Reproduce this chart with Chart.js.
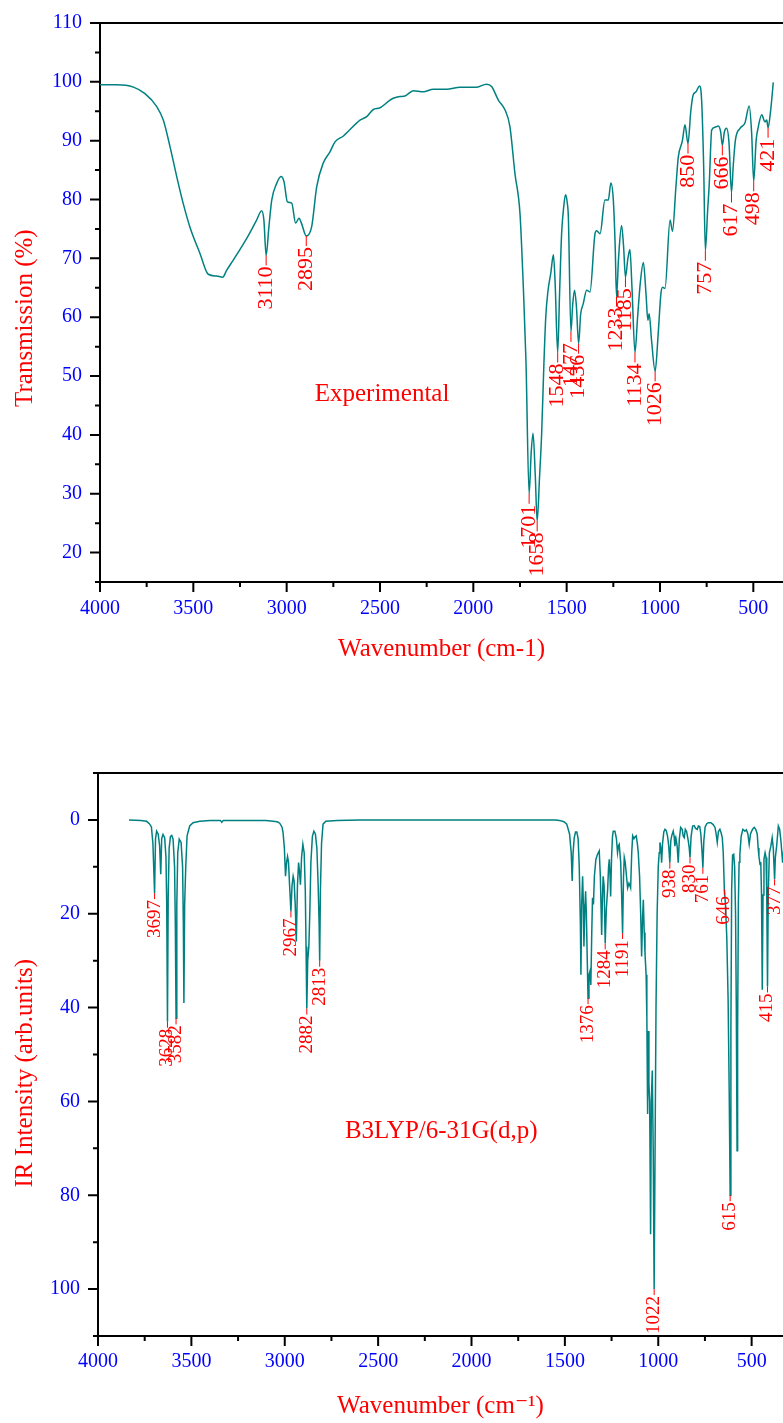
<!DOCTYPE html>
<html><head><meta charset="utf-8">
<script src="https://cdn.jsdelivr.net/npm/chart.js@4.4.1/dist/chart.umd.min.js"></script>
<style>
html,body{margin:0;padding:0;background:#fff;overflow:hidden;width:783px;height:1423px}
.box{position:absolute;left:0;width:783px}
#b1{top:0;height:690px}
#b2{top:690px;height:733px}
canvas{display:block}
</style></head><body>
<div class="box" id="b1"><canvas id="c1" width="783" height="690"></canvas></div>
<div class="box" id="b2"><canvas id="c2" width="783" height="733"></canvas></div>
<script>
// ---------- Experimental FT-IR (transmission %) ----------
const expWavenumber = [
4000,3911,3821,3759,3696,3661,3625,3589,3554,3518,
3464,3420,3375,3343,3321,3286,3214,3161,3134,3122,
3110,3095,3080,3054,3030,3014,2996,2973,2952,2934,
2920,2895,2866,2839,2804,2768,2741,2696,2607,2571,
2536,2500,2446,2429,2393,2366,2321,2268,2214,2143,
2071,1982,1929,1902,1866,1830,1804,1777,1750,1732,
1718,1701,1690,1680,1668,1658,1645,1634,1622,1612,
1600,1585,1571,1562,1548,1538,1527,1515,1506,1497,
1491,1477,1468,1458,1448,1436,1425,1411,1393,1375,
1348,1339,1321,1295,1277,1263,1250,1240,1233,1222,
1206,1195,1185,1172,1161,1150,1134,1120,1105,1089,
1075,1065,1058,1045,1026,1010,995,986,973,946,
933,915,902,880,866,850,835,822,807,789,
777,766,757,745,736,723,705,688,675,666,
655,643,630,617,607,596,571,545,522,509,
498,485,473,455,438,428,421,407,393];
const expTransmission = [
99.5,99.5,99.1,98.0,95.8,93.5,89.0,83.9,79.3,75.3,
70.8,67.3,67.0,66.8,68.0,69.7,73.4,76.5,78.1,76.5,
70.5,75.4,79.9,82.7,83.9,83.0,79.6,79.4,76.0,76.8,
75.9,73.8,75.4,82.2,86.2,88.1,89.8,90.8,93.5,94.1,
95.3,95.6,96.9,97.2,97.5,97.6,98.5,98.3,98.75,98.75,
99.1,99.1,99.6,99.2,96.9,95.2,92.4,84.4,77.6,65.0,
52.6,30.0,37.0,40.3,33.0,25.3,33.0,40.2,52.0,60.0,
64.5,67.5,70.6,66.0,54.0,64.0,74.2,79.0,80.8,79.5,
77.1,57.5,62.0,64.6,62.0,55.5,60.5,62.3,64.6,64.3,
74.2,74.7,74.2,79.9,79.9,82.8,79.9,72.0,63.5,70.0,
75.6,72.0,66.8,70.0,71.5,65.0,54.0,60.0,66.0,69.3,
64.0,59.5,60.6,56.0,50.8,57.0,64.0,65.1,64.9,76.5,
74.6,82.0,87.2,90.0,92.7,89.5,95.0,97.8,98.3,99.3,
96.9,85.6,71.3,78.0,82.7,91.8,92.3,92.5,91.5,89.2,
91.5,92.1,89.5,81.2,86.0,90.1,92.1,93.0,95.9,91.3,
83.1,90.0,92.4,94.4,93.2,93.5,92.2,95.2,99.9];
const expPeaks = [3110,2895,1701,1658,1548,1477,1436,1233,1185,1134,1026,850,757,666,617,498,421];

// ---------- Calculated B3LYP/6-31G(d,p) IR intensity ----------
const calcWavenumber = [
3834,3770,3740,3725,3714,3706,3697,3692,3686,3678,
3670,3664,3659,3652,3643,3636,3632,3628,3624,3619,
3612,3605,3598,3590,3586,3582,3578,3573,3565,3555,
3547,3543,3540,3536,3530,3523,3509,3491,3455,3400,
3345,3337,3329,3100,3040,3027,3015,3009,3002,2996,
2990,2985,2980,2974,2967,2961,2955,2950,2944,2938,
2932,2926,2921,2916,2910,2903,2896,2890,2886,2882,
2877,2871,2866,2860,2852,2844,2836,2828,2821,2816,
2813,2809,2803,2795,2780,2720,2600,1550,1530,1505,
1490,1475,1466,1461,1456,1450,1443,1436,1429,1423,
1417,1414,1410,1405,1401,1398,1393,1389,1385,1380,
1376,1371,1366,1361,1356,1352,1347,1342,1334,1325,
1316,1310,1303,1299,1295,1290,1284,1278,1271,1266,
1262,1258,1255,1250,1245,1241,1232,1224,1218,1213,
1209,1201,1196,1191,1186,1182,1177,1170,1164,1157,
1152,1148,1142,1137,1130,1124,1118,1112,1107,1100,
1094,1089,1084,1080,1075,1071,1065,1061,1057,1053,
1050,1046,1041,1037,1032,1027,1022,1017,1012,1006,
1000,995,991,986,982,977,970,964,957,950,
944,938,933,928,920,915,911,905,899,893,
887,880,872,866,861,855,848,839,834,830,
824,816,808,800,791,785,778,772,766,761,
756,749,740,732,718,706,696,690,684,678,
670,663,657,652,646,640,633,626,620,615,
611,607,602,596,591,586,582,578,575,571,
567,563,556,547,536,528,520,513,506,500,
492,486,478,470,465,461,455,451,447,443,
439,434,428,423,419,415,411,405,397,390,
384,380,377,373,366,357,350,343,334,325];
const calcIntensity = [
0,0.1,0.3,0.8,1.5,5,15.6,4,2.4,3,
5.5,11.6,4,3.1,3.8,8,18,43,16,6,
3.5,3.3,4.1,10,22,42.3,18,7,4.1,4.8,
10,22,39,18,9.8,3.4,1.3,0.6,0.3,0.1,
0.1,0.5,0.1,0.1,0.4,0.7,1.5,2.7,6,12,
9,7.8,9,14,19.5,14,12,13,18,25.9,
14,9.1,11,13.8,8,5.2,7,15,27,40.2,
30,27,20,9,3.5,2.4,3,6,14,22,
30,15,5,0.9,0.3,0.1,0,0,0.1,0.4,
0.9,3,7,13,7,3.8,2.6,2.6,4,10,
22,33,18,12,18,27,19,15.2,20,30,
38,33,32.3,35.2,24,16.6,18,12,8.4,7.3,
6.6,12,24.5,17,12,14,26.3,19,14.8,10,
8.4,12,16.3,8,3.5,2.4,2.4,4,7,5.5,
5.2,9.1,16,24.1,12,8,9,12,14.5,13.5,
14,14.5,7,3.4,4,3.6,3.4,5,7,12,
20,29.1,21,17,24,28.4,33,42,62.7,45,
56.2,60,88.3,60,53.4,70,100,70,40,20,
10,7,4.8,6,9.1,5,2.5,2,2.3,3.5,
5.5,9.1,4.5,3.4,2.4,3.5,5.6,4,5.5,9.1,
4,1.6,2,3.5,3.8,2,2.5,4.5,6,8,
3.5,1.3,1.2,1.8,2,1.3,1.4,3,6.5,10.2,
4.5,1.5,0.8,0.6,0.6,1,1.6,3,4.8,2.5,
2,2.8,3.8,7,14.8,18,25,38,58,80,
45,15,7.5,7.3,10,20,40,70.5,45,18,
9,7.3,3.5,2,2.4,2.1,3,5.2,3,2.4,
1.8,1.6,2,3,6,7.7,9.5,9,16,36.2,
16,8.4,7,8,16,35.5,16,7,5.6,3.8,
6,10,12.7,8,5.6,1.3,2,4.5,9.1,5];
const calcPeaks = [3697,3628,3582,2967,2882,2813,1376,1284,1191,1022,938,830,761,646,615,415,377];

// ---------- tick values ----------
const xMajorTicks = [4000,3500,3000,2500,2000,1500,1000,500];
const xMinorTicks = [3750,3250,2750,2250,1750,1250,750];
const expYMajor = [20,30,40,50,60,70,80,90,100,110];
const expYMinor = [15,25,35,45,55,65,75,85,95,105];
const calcYMajor = [0,20,40,60,80,100];
const calcYMinor = [-10,10,30,50,70,90,110];

const FONT = '"Liberation Serif","DejaVu Serif","Times New Roman",serif';
Chart.defaults.font.family = FONT;
const BLUE = '#0000ff', RED = '#ff0000', TEAL = '#008080';

function decorPlugin(xMaj, xMin, yMaj, yMin) {
  return {
    id: 'decor',
    afterDraw(chart) {
      const {ctx, chartArea: a, scales: {x, y}} = chart;
      ctx.save();
      ctx.strokeStyle = '#000'; ctx.lineWidth = 2; ctx.lineCap = 'butt';
      ctx.beginPath();
      ctx.moveTo(a.left - 1, a.top); ctx.lineTo(a.right, a.top);
      xMaj.forEach(v => { const p = x.getPixelForValue(v); if (p >= a.left - 1 && p <= a.right + 1) { ctx.moveTo(p, a.bottom); ctx.lineTo(p, a.bottom + 10); } });
      xMin.forEach(v => { const p = x.getPixelForValue(v); if (p >= a.left - 1 && p <= a.right + 1) { ctx.moveTo(p, a.bottom); ctx.lineTo(p, a.bottom + 5); } });
      yMaj.forEach(v => { const p = y.getPixelForValue(v); ctx.moveTo(a.left, p); ctx.lineTo(a.left - 10, p); });
      yMin.forEach(v => { const p = y.getPixelForValue(v); ctx.moveTo(a.left, p); ctx.lineTo(a.left - 5, p); });
      ctx.stroke();
      ctx.restore();
    }
  };
}

function labelPlugin(xs, ys, peaks, gap, size, note) {
  return {
    id: 'peaklabels',
    afterDatasetsDraw(chart) {
      const {ctx, scales: {x, y}} = chart;
      ctx.save();
      ctx.fillStyle = RED; ctx.strokeStyle = RED; ctx.lineWidth = 1;
      ctx.font = size + 'px ' + FONT;
      peaks.forEach(w => {
        const i = xs.indexOf(w);
        if (i < 0) return;
        const px = x.getPixelForValue(w), py = y.getPixelForValue(ys[i]);
        ctx.beginPath(); ctx.moveTo(px, py); ctx.lineTo(px, py + gap); ctx.stroke();
        ctx.save();
        ctx.translate(px, py + gap + 1);
        ctx.rotate(-Math.PI / 2);
        ctx.textAlign = 'right'; ctx.textBaseline = 'middle';
        ctx.fillText(String(w), 0, 0);
        ctx.restore();
      });
      ctx.font = '25px ' + FONT;
      ctx.textAlign = note.align; ctx.textBaseline = 'alphabetic';
      ctx.fillText(note.text, x.getPixelForValue(note.x), y.getPixelForValue(note.y));
      ctx.restore();
    }
  };
}

function makeChart(canvasId, cfg) {
  return new Chart(document.getElementById(canvasId), {
    type: 'line',
    data: { datasets: [{
      data: cfg.xs.map((v, i) => ({x: v, y: cfg.ys[i]})),
      borderColor: TEAL, borderWidth: 1.5, pointRadius: 0, fill: false,
      tension: cfg.tension, cubicInterpolationMode: cfg.tension ? 'monotone' : 'default'
    }]},
    options: {
      responsive: false, animation: false, events: [],
      layout: { padding: { top: cfg.padTop, left: 0, right: 0, bottom: 0 } },
      plugins: { legend: { display: false }, tooltip: { enabled: false } },
      scales: {
        x: {
          type: 'linear', reverse: true, min: cfg.xMin, max: 4000,
          afterFit(s) { s.height = cfg.xHeight; s.paddingLeft = 0; s.paddingRight = 0; },
          afterBuildTicks(s) { s.ticks = xMajorTicks.map(v => ({value: v})); },
          grid: { display: false, drawTicks: false },
          border: { display: true, color: '#000', width: 2 },
          ticks: { color: BLUE, font: { size: 20 }, padding: cfg.xTickPad, autoSkip: false, maxRotation: 0, callback: v => String(v) },
          title: { display: true, text: cfg.xTitle, color: RED, font: { size: 25 }, padding: { top: 0, bottom: cfg.xTitlePad } }
        },
        y: {
          type: 'linear', reverse: cfg.yReverse, min: cfg.yMin, max: cfg.yMax,
          afterFit(s) { s.width = cfg.yWidth; s.paddingTop = 0; s.paddingBottom = 0; },
          afterBuildTicks(s) { s.ticks = cfg.yMajor.map(v => ({value: v})); },
          grid: { display: false, drawTicks: false },
          border: { display: true, color: '#000', width: 2 },
          ticks: { color: BLUE, font: { size: 20 }, padding: 18, callback: v => String(v) },
          title: { display: true, text: cfg.yTitle, color: RED, font: { size: 25 }, padding: { top: 10, bottom: 0 } }
        }
      }
    },
    plugins: [decorPlugin(xMajorTicks, xMinorTicks, cfg.yMajor, cfg.yMinor),
              labelPlugin(cfg.xs, cfg.ys, cfg.peaks, cfg.gap, cfg.labelSize, cfg.note)]
  });
}

makeChart('c1', {
  xs: expWavenumber, ys: expTransmission, peaks: expPeaks, tension: 0.3,
  padTop: 23, xMin: 341, xHeight: 108, xTickPad: 15, xTitlePad: 26,
  xTitle: 'Wavenumber (cm-1)',
  yTitle: 'Transmission (%)' + '\u00A0'.repeat(5),
  yReverse: false, yMin: 15, yMax: 110, yWidth: 100,
  yMajor: expYMajor, yMinor: expYMinor,
  gap: 10, labelSize: 22,
  note: { text: 'Experimental', x: 2489, y: 45.8, align: 'center' }
});

makeChart('c2', {
  xs: calcWavenumber, ys: calcIntensity, peaks: calcPeaks, tension: 0,
  padTop: 83, xMin: 332, xHeight: 87, xTickPad: 14, xTitlePad: 2,
  xTitle: 'Wavenumber (cm\u207B\u00B9)',
  yTitle: 'IR Intensity (arb.units)' + '\u00A0'.repeat(6),
  yReverse: true, yMin: -10, yMax: 110, yWidth: 98,
  yMajor: calcYMajor, yMinor: calcYMinor,
  gap: 6, labelSize: 19,
  note: { text: 'B3LYP/6-31G(d,p)', x: 2678, y: 67.8, align: 'left' }
});
</script>
</body></html>
